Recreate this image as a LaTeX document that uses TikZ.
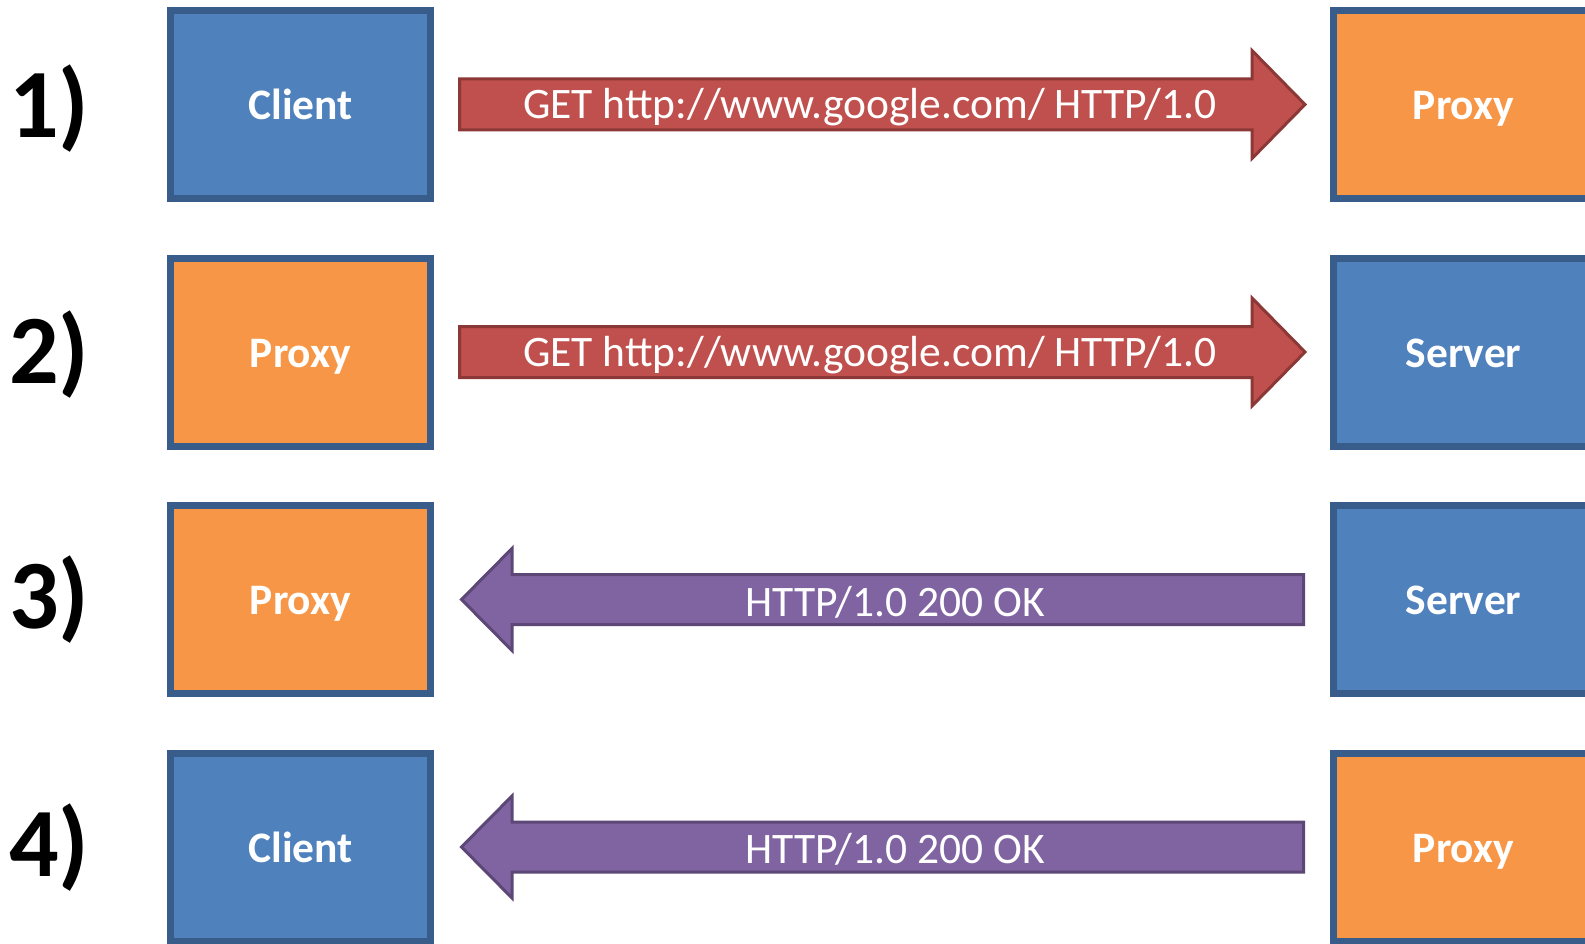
\documentclass[tikz,border=0pt]{standalone}
\usepackage{fontspec}
\setmainfont{Carlito}
\definecolor{bfill}{HTML}{4F81BD}
\definecolor{bline}{HTML}{385D8A}
\definecolor{ofill}{HTML}{F79646}
\definecolor{rfill}{HTML}{C0504D}
\definecolor{rline}{HTML}{8C3836}
\definecolor{pfill}{HTML}{8064A2}
\definecolor{pline}{HTML}{5C4776}
\begin{document}
\begin{tikzpicture}[x=1pt,y=-1pt,
  boxbase/.style={draw=bline, line width=7pt, minimum width=260pt, minimum height=188pt,
    inner sep=0pt, text=white, font=\fontsize{43.5}{52}\selectfont\bfseries,
    text height=30pt, text depth=0pt},
  bluebox/.style={boxbase, fill=bfill},
  orangebox/.style={boxbase, fill=ofill},
  numlbl/.style={anchor=base west, inner sep=0pt, font=\fontsize{98}{112}\selectfont\bfseries},
  arrlbl/.style={anchor=base, inner sep=0pt, text=white, font=\fontsize{43.5}{52}\selectfont},
  redarrow/.style={fill=rfill, draw=rline, line width=3pt, line join=miter},
  purparrow/.style={fill=pfill, draw=pline, line width=3pt, line join=miter}
]
\clip (0,0) rectangle (1585,944);
\fill[white] (0,0) rectangle (1585,944);

% row 1
\node[numlbl] (n1) at (9,138) {1)};
\node[bluebox] (c1) at (300.5,104.5) {Client};
\node[orangebox] (p1) at (1463.5,104.5) {Proxy};
\draw[redarrow] (459.5,104.5-25.5) -- (1252,104.5-25.5) -- (1252,104.5-54) -- (1305,104.5)
  -- (1252,104.5+54) -- (1252,104.5+25.5) -- (459.5,104.5+25.5) -- cycle;
\node[arrlbl] (a1) at (870,118.5) {GET http://www.google.com/ HTTP/1.0};

% row 2
\node[numlbl] (n2) at (9,383) {2)};
\node[orangebox] (p2) at (300.5,352) {Proxy};
\node[bluebox] (s2) at (1463.5,352) {Server};
\draw[redarrow] (459.5,352-25.5) -- (1252,352-25.5) -- (1252,352-54) -- (1305,352)
  -- (1252,352+54) -- (1252,352+25.5) -- (459.5,352+25.5) -- cycle;
\node[arrlbl] (a2) at (870,366) {GET http://www.google.com/ HTTP/1.0};

% row 3
\node[numlbl] (n3) at (9,628) {3)};
\node[orangebox] (p3) at (300.5,599.5) {Proxy};
\node[bluebox] (s3) at (1463.5,599.5) {Server};
\draw[purparrow] (1303.5,599.5-25) -- (512,599.5-25) -- (512,599.5-51) -- (461.5,599.5)
  -- (512,599.5+51) -- (512,599.5+25) -- (1303.5,599.5+25) -- cycle;
\node[arrlbl] (a3) at (895,616) {HTTP/1.0 200 OK};

% row 4
\node[numlbl] (n4) at (9,876) {4)};
\node[bluebox] (c4) at (300.5,847) {Client};
\node[orangebox] (p4) at (1463.5,847) {Proxy};
\draw[purparrow] (1303.5,847-25) -- (512,847-25) -- (512,847-51) -- (461.5,847)
  -- (512,847+51) -- (512,847+25) -- (1303.5,847+25) -- cycle;
\node[arrlbl] (a4) at (895,863.5) {HTTP/1.0 200 OK};
\end{tikzpicture}
\end{document}
